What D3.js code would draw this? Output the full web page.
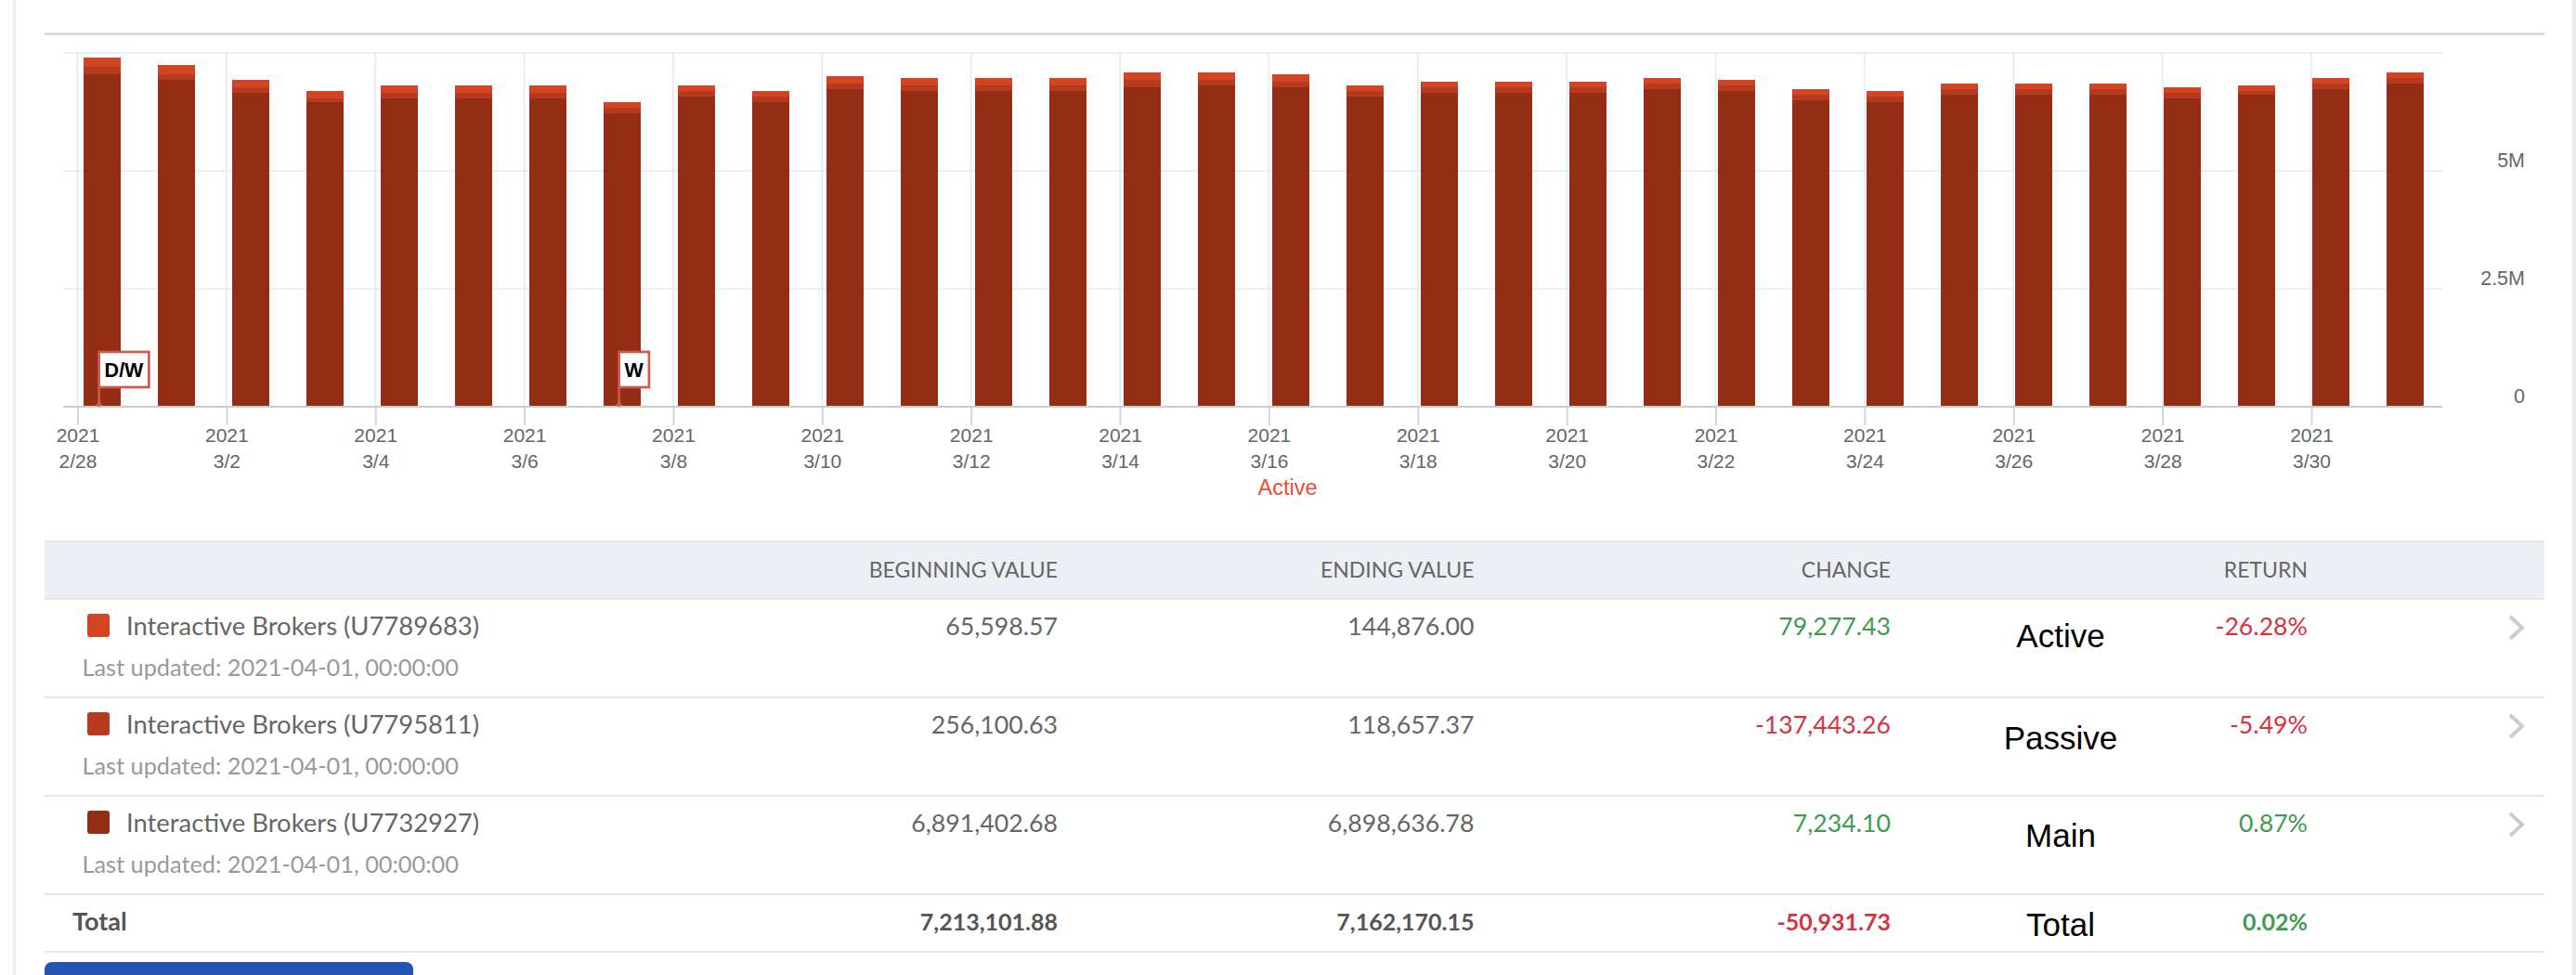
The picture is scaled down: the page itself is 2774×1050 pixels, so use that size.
<!DOCTYPE html>
<html>
<head>
<meta charset="utf-8">
<script src="https://cdn.jsdelivr.net/npm/d3@7"></script>
<style>
html, body { margin: 0; padding: 0; background: #fff; overflow: hidden; }
svg { display: block; }
.hc { font-family: "Liberation Sans", sans-serif; }
.tbl { font-family: Lato, sans-serif; }
</style>
</head>
<body>
<div id="chart"></div>
<script>
'use strict';

// chart values, in millions
var dayLabels = ['2/28', '3/1', '3/2', '3/3', '3/4', '3/5', '3/6', '3/7', '3/8', '3/9', '3/10', '3/11', '3/12', '3/13', '3/14', '3/15',
    '3/16', '3/17', '3/18', '3/19', '3/20', '3/21', '3/22', '3/23', '3/24', '3/25', '3/26', '3/27', '3/28', '3/29', '3/30', '3/31'];
var mainValues = [7.05, 6.93, 6.65, 6.46, 6.53, 6.53, 6.53, 6.22, 6.58, 6.46, 6.73, 6.69, 6.69, 6.69, 6.77, 6.81,
    6.77, 6.57, 6.65, 6.65, 6.65, 6.73, 6.69, 6.50, 6.46, 6.61, 6.61, 6.61, 6.54, 6.61, 6.73, 6.85];
var passiveValues = [0.16, 0.12, 0.12, 0.08, 0.12, 0.12, 0.12, 0.12, 0.12, 0.12, 0.12, 0.12, 0.12, 0.12, 0.16, 0.12,
    0.12, 0.12, 0.12, 0.12, 0.12, 0.12, 0.12, 0.12, 0.12, 0.12, 0.12, 0.12, 0.12, 0.08, 0.12, 0.12];
var activeValues = [0.20, 0.20, 0.15, 0.16, 0.16, 0.16, 0.16, 0.12, 0.11, 0.12, 0.16, 0.16, 0.16, 0.16, 0.16, 0.16,
    0.16, 0.12, 0.12, 0.12, 0.12, 0.12, 0.12, 0.12, 0.12, 0.12, 0.12, 0.12, 0.12, 0.12, 0.12, 0.12];
var seriesKeys = ['main', 'passive', 'active'];
var seriesColors = ['#932d14', '#b63b1e', '#d34522'];

var yTicks = [0, 2.5, 5, 7.5];
var yTickLabels = ['0', '2.5M', '5M', ''];
var tickDays = ['2/28', '3/2', '3/4', '3/6', '3/8', '3/10', '3/12', '3/14', '3/16', '3/18', '3/20', '3/22', '3/24', '3/26', '3/28', '3/30'];
var tickYear = '2021';

var flagDays = ['2/28', '3/7'];
var flagLabels = ['D/W', 'W'];

// table
var tableHeaders = ['BEGINNING VALUE', 'ENDING VALUE', 'CHANGE', 'RETURN'];
var accountNames = ['Interactive Brokers (U7789683)', 'Interactive Brokers (U7795811)', 'Interactive Brokers (U7732927)'];
var accountColors = ['#d34522', '#b63b1e', '#932d14'];
var lastUpdated = 'Last updated: 2021-04-01, 00:00:00';
var beginningValues = ['65,598.57', '256,100.63', '6,891,402.68'];
var endingValues = ['144,876.00', '118,657.37', '6,898,636.78'];
var changeValues = ['79,277.43', '-137,443.26', '7,234.10'];
var returnValues = ['-26.28%', '-5.49%', '0.87%'];
var sideNotes = ['Active', 'Passive', 'Main'];
var totalRow = ['7,213,101.88', '7,162,170.15', '-50,931.73', '0.02%'];

var width = 2774, height = 1050;
var green = '#3f9a52', red = '#d5343f';

var svg = d3.select('#chart').append('svg').attr('width', width).attr('height', height);

// page frame
svg.append('rect').attr('x', 14).attr('y', 0).attr('width', 3).attr('height', height).attr('fill', '#ececec');
svg.append('rect').attr('x', 2770).attr('y', 0).attr('width', 4).attr('height', height).attr('fill', '#ececec');
svg.append('rect').attr('x', 48).attr('y', 35.5).attr('width', 2692).attr('height', 2).attr('fill', '#cfcfcf');

// ---- chart ----
var plotLeft = 68, plotRight = 2630, plotTop = 57, plotBottom = 438;

var x = d3.scaleBand().domain(dayLabels).range([plotLeft + 2, plotRight]).paddingInner(0.5).paddingOuter(0.25);
var y = d3.scaleLinear().domain([0, 7.5]).range([plotBottom, plotTop]);
var tickX = d3.scalePoint().domain(tickDays).range([83.5, 2489]);

var rows = dayLabels.map(function (d, i) {
    return {day: d, main: mainValues[i], passive: passiveValues[i], active: activeValues[i]};
});
var stacked = d3.stack().keys(seriesKeys)(rows);

var hGrid = svg.append('g');
hGrid.selectAll('line').data(yTicks.slice(1)).enter().append('line')
    .attr('x1', plotLeft).attr('x2', plotRight)
    .attr('y1', function (d) { return y(d); }).attr('y2', function (d) { return y(d); })
    .attr('stroke', '#e8e8e8').attr('stroke-width', 1.5);

var vGrid = svg.append('g');
vGrid.selectAll('line').data(tickDays).enter().append('line')
    .attr('x1', function (d) { return tickX(d); }).attr('x2', function (d) { return tickX(d); })
    .attr('y1', plotTop).attr('y2', plotBottom)
    .attr('stroke', '#e8e8e8').attr('stroke-width', 1.5);

svg.append('g').attr('shape-rendering', 'crispEdges').selectAll('g').data(stacked).enter().append('g')
    .attr('fill', function (d, i) { return seriesColors[i]; })
    .selectAll('rect').data(function (d) { return d; }).enter().append('rect')
    .attr('x', function (d) { return x(d.data.day); })
    .attr('width', x.bandwidth())
    .attr('y', function (d) { return y(d[1]); })
    .attr('height', function (d) { return y(d[0]) - y(d[1]); });

// x axis: tick marks from the axis, two line labels put in by hand
var xAxis = svg.append('g').attr('class', 'hc').attr('transform', 'translate(0,' + plotBottom + ')')
    .call(d3.axisBottom(tickX).tickSize(20).tickSizeOuter(0).tickFormat(''));
xAxis.select('.domain').remove();
xAxis.selectAll('.tick line').attr('stroke', '#ccd6eb').attr('stroke-width', 2);
xAxis.selectAll('.tick text').remove();
var tickLabel = xAxis.selectAll('.tick').append('text')
    .attr('text-anchor', 'middle').attr('fill', '#666').attr('font-size', 21);
tickLabel.append('tspan').attr('x', 0).attr('y', 38).text(tickYear);
tickLabel.append('tspan').attr('x', 0).attr('y', 66).text(function (d) { return d; });

svg.append('line').attr('x1', plotLeft).attr('x2', plotRight).attr('y1', plotBottom).attr('y2', plotBottom)
    .attr('stroke', '#ccc').attr('stroke-width', 2);

svg.append('text').attr('class', 'hc')
    .attr('x', 1386.5).attr('y', 532.5).attr('text-anchor', 'middle')
    .attr('fill', '#ef4a3c').attr('font-size', 23.5).text('Active');

// y axis on the right, labels sit above their grid line
var yAxis = svg.append('g').attr('class', 'hc').attr('transform', 'translate(2719,0)')
    .call(d3.axisLeft(y).tickValues(yTicks).tickSize(0).tickPadding(0)
        .tickFormat(function (d, i) { return yTickLabels[i]; }));
yAxis.select('.domain').remove();
yAxis.selectAll('text').attr('fill', '#666').attr('font-size', 21.5).attr('dy', -4.5)
    .attr('font-family', '"Liberation Sans", sans-serif');

// flags
var flags = svg.append('g').attr('class', 'hc').selectAll('g').data(flagDays).enter().append('g')
    .attr('transform', function (d) { return 'translate(' + (x(d) + x.bandwidth() / 2 - 3.4) + ',' + plotBottom + ')'; });
flags.append('line').attr('y1', 0).attr('y2', -21).attr('stroke', '#d05a50').attr('stroke-width', 2.5);
flags.append('path').attr('d', d3.symbol(d3.symbolTriangle, 22)).attr('transform', 'translate(0,-3)').attr('fill', '#d05a50');
var flagBox = flags.append('rect').attr('y', -59).attr('height', 38).attr('x', 0)
    .attr('fill', '#fff').attr('stroke', '#d05a50').attr('stroke-width', 2.7);
var flagText = flags.append('text').attr('x', 6).attr('y', -32.5).attr('font-size', 21.5).attr('font-weight', 'bold')
    .attr('fill', '#000').text(function (d, i) { return flagLabels[i]; });
flagBox.attr('width', function (d, i) { return flagText.nodes()[i].getComputedTextLength() + 12; });

// ---- table ----
var tableLeft = 48, tableRight = 2740;
var columnRight = [1139, 1587.5, 2036, 2485];
var rowLines = [645, 751, 857, 963, 1025];
var rowIndex = d3.range(3);
var rowY = d3.scaleLinear().domain([0, 1]).range([rowLines[0], rowLines[1]]);

var table = svg.append('g').attr('class', 'tbl');

table.append('rect').attr('x', tableLeft).attr('y', 583).attr('width', tableRight - tableLeft).attr('height', 62).attr('fill', '#ecf0f4');
table.append('line').attr('x1', tableLeft).attr('x2', tableRight).attr('y1', 583).attr('y2', 583)
    .attr('stroke', '#e6e6e6').attr('stroke-width', 2);
table.selectAll('.rule').data(rowLines).enter().append('line').attr('class', 'rule')
    .attr('x1', tableLeft).attr('x2', tableRight)
    .attr('y1', function (d) { return d; }).attr('y2', function (d) { return d; })
    .attr('stroke', '#e6e6e6').attr('stroke-width', 2);

table.selectAll('.head').data(tableHeaders).enter().append('text').attr('class', 'head')
    .attr('x', function (d, i) { return columnRight[i]; }).attr('y', 622)
    .attr('text-anchor', 'end').attr('fill', '#666').attr('font-size', 23).text(function (d) { return d; });

function signColor(s) {
    return s.charAt(0) === '-' ? red : green;
}

var row = table.selectAll('.row').data(rowIndex).enter().append('g').attr('class', 'row')
    .attr('transform', function (d) { return 'translate(0,' + rowY(d) + ')'; });

row.append('rect').attr('x', 94).attr('y', 16).attr('width', 24).attr('height', 25).attr('rx', 3)
    .attr('fill', function (d) { return accountColors[d]; });
row.append('text').attr('x', 136).attr('y', 39).attr('font-size', 27.4).attr('fill', '#666')
    .text(function (d) { return accountNames[d]; });
row.append('text').attr('x', 88.5).attr('y', 83).attr('font-size', 25.3).attr('fill', '#999').text(lastUpdated);

[beginningValues, endingValues, changeValues, returnValues].forEach(function (col, c) {
    row.append('text').attr('x', columnRight[c]).attr('y', 39).attr('text-anchor', 'end').attr('font-size', 26.7)
        .attr('fill', function (d) { return c < 2 ? '#666' : signColor(col[d]); })
        .text(function (d) { return col[d]; });
});

row.append('path')
    .attr('d', d3.line()([[2703, 19], [2716, 31], [2703, 43]]))
    .attr('fill', 'none').attr('stroke', '#ccc').attr('stroke-width', 4);

// total row
table.append('text').attr('x', 78).attr('y', 1002).attr('font-size', 27).attr('font-weight', 700).attr('fill', '#555').text('Total');
table.selectAll('.total').data(totalRow).enter().append('text').attr('class', 'total')
    .attr('x', function (d, i) { return columnRight[i]; }).attr('y', 1002)
    .attr('text-anchor', 'end').attr('font-size', 25).attr('font-weight', 700)
    .attr('fill', function (d, i) { return i < 2 ? '#555' : signColor(d); })
    .text(function (d) { return d; });

// labels typed onto the screenshot
var noteY = [697, 807, 912, 1008];
svg.append('g').attr('class', 'hc').selectAll('text').data(sideNotes.concat(['Total'])).enter().append('text')
    .attr('x', 2219).attr('y', function (d, i) { return noteY[i]; })
    .attr('text-anchor', 'middle').attr('fill', '#000').attr('font-size', 35)
    .text(function (d) { return d; });

// button, cut off by the bottom edge
svg.append('path').attr('fill', '#2654b5')
    .attr('d', 'M48,1050V1044a8,8 0 0 1 8,-8H437a8,8 0 0 1 8,8V1050Z');
</script>
</body>
</html>
